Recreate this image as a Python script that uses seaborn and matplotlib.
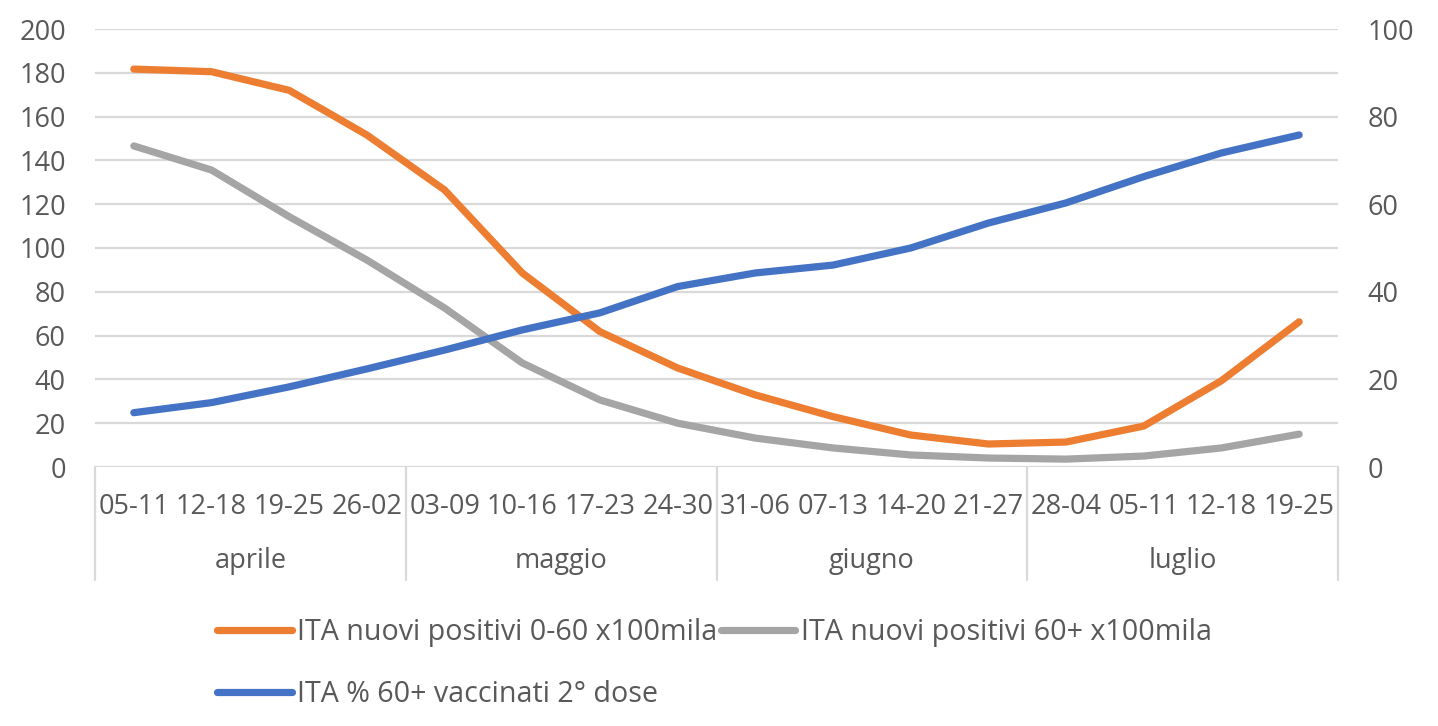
import numpy as np
import matplotlib
matplotlib.use("Agg")
import matplotlib.pyplot as plt
import matplotlib.transforms as mtransforms
import seaborn as sns

# =============================================
# Data
weeks = ['05-11', '12-18', '19-25', '26-02',
         '03-09', '10-16', '17-23', '24-30',
         '31-06', '07-13', '14-20', '21-27',
         '28-04', '05-11', '12-18', '19-25']
months = ['aprile', 'maggio', 'giugno', 'luglio']

positivi_0_60 = [181.7, 180.5, 172, 151.6, 126.5, 88.6, 61.8, 45.2,
                 32.9, 23, 14.6, 10.5, 11.4, 18.7, 39.4, 66.3]
positivi_60 = [146.6, 135.6, 114.3, 94.5, 72.6, 47.5, 30.6, 20,
               13.2, 8.7, 5.5, 4.1, 3.6, 5, 8.7, 15]
vaccinati_60 = [12.4, 14.7, 18.3, 22.4, 26.7, 31.3, 35.2, 41.2,
                44.3, 46.1, 50, 55.7, 60.3, 66.3, 71.7, 75.8]

label_orange = 'ITA nuovi positivi 0-60 x100mila'
label_gray = 'ITA nuovi positivi 60+ x100mila'
label_blue = 'ITA % 60+ vaccinati 2° dose'

# =============================================
# Style
sns.set_theme(style="white")
plt.rcParams['font.family'] = ['Open Sans', 'DejaVu Sans']
fontSize = 19.5
legendFontSize = 20.6
textColor = '#595959'
gridColor = '#d9d9d9'

fig = plt.figure(figsize=(14.38, 7.26), dpi=100)
ax = fig.add_axes([95 / 1438, 1 - 467 / 726, (1338 - 95) / 1438, (467 - 29) / 726])
ax2 = ax.twinx()

pos = np.arange(len(weeks))

sns.lineplot(x=pos, y=positivi_0_60, ax=ax, color='#ED7D31', lw=5.2, label=label_orange, legend=False)
sns.lineplot(x=pos, y=positivi_60, ax=ax, color='#A5A5A5', lw=5.2, label=label_gray, legend=False)
sns.lineplot(x=pos, y=vaccinati_60, ax=ax2, color='#4472C4', lw=5.2, label=label_blue, legend=False)

ax.set_xlim(-0.5, len(weeks) - 0.5)
ax.set_ylim(0, 200)
ax2.set_ylim(0, 100)
ax.set_yticks(np.arange(0, 201, 20))
ax2.set_yticks(np.arange(0, 101, 20))

for a in (ax, ax2):
    for s in a.spines.values():
        s.set_visible(False)
    a.grid(False)
    a.set_xlabel('')
    a.set_ylabel('')

# horizontal gridlines
for v in np.arange(0, 201, 20):
    ax.axhline(v, color=gridColor, lw=1.6, zorder=0)

ax.set_xticks(pos)
ax.set_xticklabels(weeks)
ax.tick_params(axis='x', length=0, pad=19, labelsize=fontSize, labelcolor=textColor)
ax.tick_params(axis='y', length=0, pad=21, labelsize=fontSize, labelcolor=textColor)
ax2.tick_params(axis='y', length=0, pad=21, labelsize=fontSize, labelcolor=textColor)

# category (month) separators and labels
trans = mtransforms.blended_transform_factory(ax.transData, ax.transAxes)
for b in [-0.5, 3.5, 7.5, 11.5, 15.5]:
    ax.plot([b, b], [0, -0.258], transform=trans, color=gridColor, lw=1.6, clip_on=False)
for i, m in enumerate(months):
    ax.text(4 * i + 1.5, -0.215, m, transform=trans, ha='center', va='center',
            fontsize=fontSize, color=textColor)

# legend, row-major order: orange, gray / blue
h1, l1 = ax.get_legend_handles_labels()
h2, l2 = ax2.get_legend_handles_labels()
handles = [h1[0], h2[0], h1[1]]
labels = [l1[0], l2[0], l1[1]]
fig.legend(handles, labels, ncol=2, loc='upper left', bbox_to_anchor=(203 / 1438, 1 - 604 / 726),
           frameon=False, fontsize=legendFontSize, labelcolor=textColor, handlelength=2.6,
           handletextpad=0.2, columnspacing=0.1, labelspacing=1.15, borderpad=0)

fig.savefig('out.png', dpi=100, facecolor='white')
